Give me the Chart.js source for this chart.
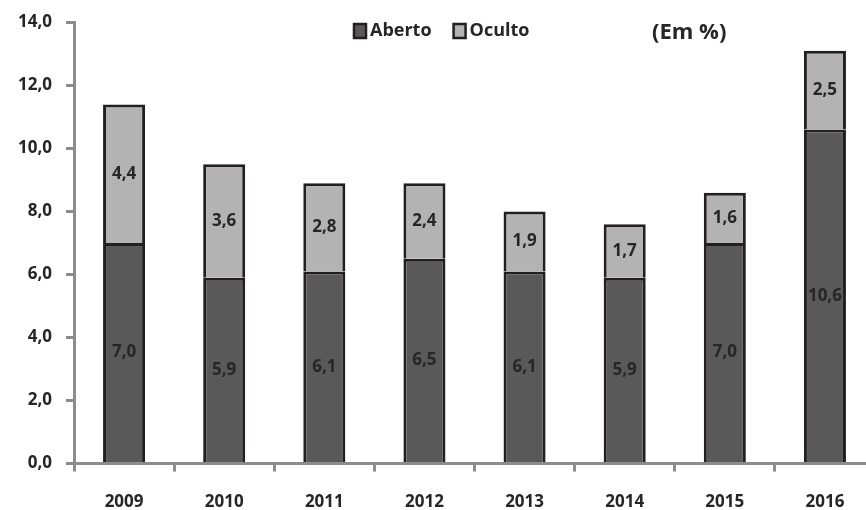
<!DOCTYPE html>
<html>
<head>
<meta charset="utf-8">
<script src="https://cdn.jsdelivr.net/npm/chart.js@4"></script>
<style>
  body { margin: 0; background: #fff; overflow: hidden; }
  #wrap { width: 880px; height: 510px; }
</style>
</head>
<body>
<div id="wrap"><canvas id="chart" width="880" height="510"></canvas></div>
<script>
// Data
const years = ['2009', '2010', '2011', '2012', '2013', '2014', '2015', '2016'];
const aberto = [7.0, 5.9, 6.1, 6.5, 6.1, 5.9, 7.0, 10.6];
const oculto = [4.4, 3.6, 2.8, 2.4, 1.9, 1.7, 1.6, 2.5];
const unitNote = '(Em %)';

const FONT = '"Open Sans", sans-serif';
const TEXT = '#262626';
const AXIS = '#8c8c8c';

function fmt(v) {
    return v.toFixed(1).replace('.', ',');
}

// Values written inside each bar segment
const barLabels = {
    id: 'barLabels',
    afterDatasetsDraw(chart) {
        const ctx = chart.ctx;
        ctx.save();
        ctx.font = 'bold 17px ' + FONT;
        ctx.fillStyle = TEXT;
        ctx.textAlign = 'center';
        ctx.textBaseline = 'middle';
        chart.data.datasets.forEach((ds, i) => {
            chart.getDatasetMeta(i).data.forEach((bar, j) => {
                const p = bar.getCenterPoint();
                ctx.fillText(fmt(ds.data[j]), p.x, p.y);
            });
        });
        ctx.restore();
    }
};

// Legend and unit note drawn at the top of the plot
const topLegend = {
    id: 'topLegend',
    afterDraw(chart) {
        const ctx = chart.ctx;
        ctx.save();
        ctx.font = 'bold 18px ' + FONT;
        ctx.textBaseline = 'middle';
        let x = 354;
        const y = 31;
        chart.data.datasets.forEach(ds => {
            ctx.fillStyle = ds.backgroundColor;
            ctx.fillRect(x, y - 7, 12, 14);
            ctx.strokeStyle = '#231f20';
            ctx.lineWidth = 2.5;
            ctx.strokeRect(x, y - 7, 12, 14);
            ctx.fillStyle = TEXT;
            ctx.textAlign = 'left';
            ctx.fillText(ds.label, x + 16, y);
            x += 16 + ctx.measureText(ds.label).width + 22;
        });
        ctx.font = 'bold 22px ' + FONT;
        ctx.textAlign = 'left';
        ctx.fillText(unitNote, 652, y + 2);
        ctx.restore();
    }
};

new Chart(document.getElementById('chart'), {
    type: 'bar',
    data: {
        labels: years,
        datasets: [
            {
                label: 'Aberto',
                data: aberto,
                backgroundColor: '#595959',
                borderColor: '#231f20',
                borderWidth: 3
            },
            {
                label: 'Oculto',
                data: oculto,
                backgroundColor: '#b3b3b3',
                borderColor: '#231f20',
                borderWidth: 3
            }
        ]
    },
    options: {
        responsive: false,
        animation: false,
        datasets: {
            bar: { barPercentage: 0.42, categoryPercentage: 1.0 }
        },
        layout: {
            padding: { top: 4, right: 5, left: 4, bottom: -22 }
        },
        plugins: {
            legend: { display: false },
            tooltip: { enabled: false }
        },
        scales: {
            x: {
                stacked: true,
                border: { color: AXIS, width: 3 },
                grid: {
                    drawOnChartArea: false,
                    drawTicks: true,
                    tickLength: 8,
                    color: AXIS,
                    lineWidth: 3
                },
                ticks: {
                    color: TEXT,
                    font: { family: FONT, size: 17, weight: 'bold' },
                    padding: 20
                }
            },
            y: {
                stacked: true,
                min: 0,
                max: 14,
                border: { color: AXIS, width: 3 },
                grid: {
                    drawOnChartArea: false,
                    drawTicks: true,
                    tickLength: 8,
                    color: AXIS,
                    lineWidth: 3
                },
                ticks: {
                    stepSize: 2,
                    color: TEXT,
                    font: { family: FONT, size: 17, weight: 'bold', lineHeight: 1.0 },
                    padding: 14,
                    callback: v => fmt(v)
                }
            }
        }
    },
    plugins: [barLabels, topLegend]
});
</script>
</body>
</html>
